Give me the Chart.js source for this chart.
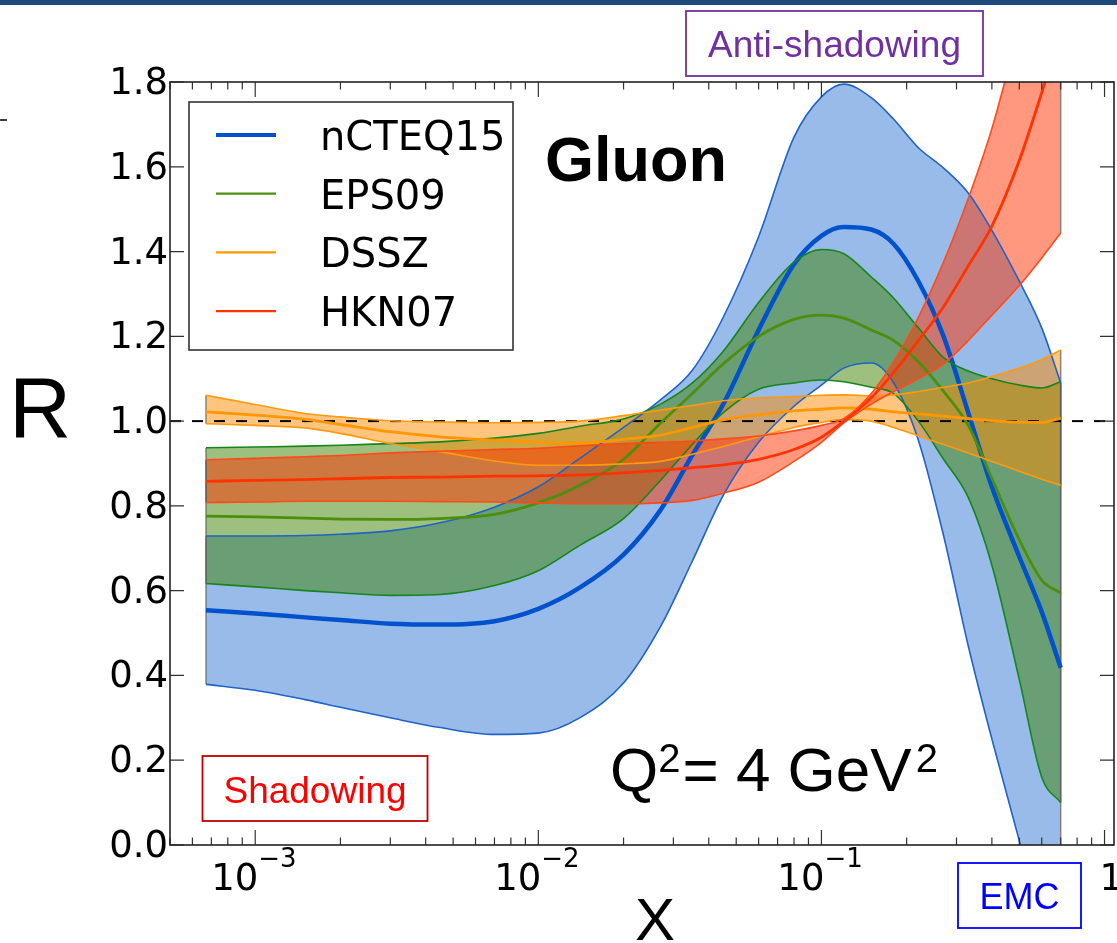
<!DOCTYPE html>
<html>
<head>
<meta charset="utf-8">
<script src="https://cdn.jsdelivr.net/npm/chart.js@4.4.1/dist/chart.umd.min.js"></script>
<style>
  html, body { margin: 0; padding: 0; background: #fff; }
  #wrap { width: 1117px; height: 943px; position: relative; }
</style>
</head>
<body>
<div id="wrap"><canvas id="gluon"></canvas></div>
<script>
var xs = [6.7e-4, 1e-3, 1.5e-3, 2e-3, 3e-3, 4.5e-3, 7e-3, 1e-2, 1.4e-2, 2e-2, 2.7e-2, 3.5e-2, 4.5e-2,
          6e-2, 8e-2, 0.1, 0.12, 0.15, 0.18, 0.22, 0.27, 0.33, 0.4, 0.5, 0.6, 0.7];

// nCTEQ15
var nctUp  = [0.729, 0.729, 0.730, 0.733, 0.741, 0.760, 0.797, 0.845, 0.912, 0.985, 1.050, 1.120, 1.245,
              1.435, 1.670, 1.765, 1.795, 1.763, 1.712, 1.645, 1.597, 1.538, 1.450, 1.330, 1.220, 1.090];
var nctMid = [0.554, 0.546, 0.537, 0.531, 0.522, 0.520, 0.528, 0.557, 0.607, 0.685, 0.790, 0.920, 1.040,
              1.215, 1.370, 1.437, 1.458, 1.452, 1.418, 1.330, 1.200, 1.020, 0.845, 0.680, 0.550, 0.418];
var nctLo  = [0.379, 0.365, 0.343, 0.325, 0.300, 0.277, 0.261, 0.264, 0.300, 0.382, 0.515, 0.670, 0.825,
              0.950, 1.035, 1.085, 1.125, 1.137, 1.090, 0.955, 0.730, 0.470, 0.250, 0.010, -0.180, -0.350];

// EPS09
var epsUp  = [0.937, 0.939, 0.941, 0.943, 0.947, 0.951, 0.960, 0.971, 0.988, 1.005, 1.040, 1.090, 1.165,
              1.280, 1.375, 1.405, 1.395, 1.340, 1.290, 1.220, 1.150, 1.118, 1.100, 1.085, 1.078, 1.093];
var epsMid = [0.776, 0.774, 0.771, 0.769, 0.768, 0.770, 0.780, 0.807, 0.848, 0.910, 0.995, 1.065, 1.135,
              1.200, 1.240, 1.250, 1.243, 1.215, 1.190, 1.140, 1.070, 0.990, 0.865, 0.720, 0.625, 0.594];
var epsLo  = [0.617, 0.609, 0.600, 0.595, 0.589, 0.591, 0.612, 0.647, 0.707, 0.770, 0.860, 0.945, 1.020,
              1.075, 1.090, 1.097, 1.093, 1.080, 1.065, 1.000, 0.910, 0.820, 0.660, 0.390, 0.160, 0.100];

// DSSZ
var dsszUp  = [1.061, 1.039, 1.018, 1.010, 1.001, 0.998, 0.996, 0.997, 1.000, 1.013, 1.026, 1.037, 1.048,
               1.055, 1.058, 1.061, 1.062, 1.060, 1.062, 1.070, 1.080, 1.090, 1.105, 1.125, 1.145, 1.168];
var dsszMid = [1.022, 1.014, 1.004, 0.992, 0.975, 0.963, 0.955, 0.950, 0.948, 0.957, 0.967, 0.985, 1.003,
               1.015, 1.024, 1.028, 1.031, 1.028, 1.022, 1.017, 1.012, 1.006, 1.001, 0.997, 0.997, 1.007];
var dsszLo  = [0.994, 0.990, 0.984, 0.971, 0.947, 0.928, 0.906, 0.896, 0.896, 0.899, 0.905, 0.922, 0.940,
               0.963, 0.985, 0.997, 1.004, 1.000, 0.985, 0.965, 0.945, 0.925, 0.905, 0.882, 0.863, 0.849];

// HKN07
var hknUp  = [0.909, 0.912, 0.916, 0.919, 0.925, 0.929, 0.933, 0.936, 0.942, 0.947, 0.950, 0.953, 0.958,
              0.965, 0.977, 0.990, 1.006, 1.065, 1.140, 1.245, 1.375, 1.525, 1.690, 1.930, 2.120, 2.280];
var hknMid = [0.858, 0.860, 0.862, 0.864, 0.867, 0.868, 0.870, 0.871, 0.873, 0.878, 0.884, 0.890, 0.897,
              0.910, 0.933, 0.962, 1.000, 1.055, 1.115, 1.190, 1.270, 1.366, 1.460, 1.615, 1.775, 1.920];
var hknLo  = [0.808, 0.809, 0.811, 0.811, 0.811, 0.810, 0.809, 0.807, 0.805, 0.805, 0.807, 0.813, 0.830,
              0.856, 0.905, 0.950, 0.996, 1.040, 1.070, 1.100, 1.135, 1.190, 1.250, 1.320, 1.385, 1.444];

// axes
var xMin = 5e-4, xMax = 1.08;
var yMin = 0, yMax = 1.8;
var yTicks = [0, 0.2, 0.4, 0.6, 0.8, 1.0, 1.2, 1.4, 1.6, 1.8];
var xMajor = [1e-3, 1e-2, 1e-1, 1];
var xExp = ["\u22123", "\u22122", "\u22121", "0"];
var unityX = [xMin, xMax];
var unityY = [1, 1];

function pts(xv, yv) {
  return xv.map(function (x, i) { return { x: x, y: yv[i] }; });
}

function edge(data, color, order, fillTo, fillColor) {
  return {
    data: pts(xs, data), borderColor: color, borderWidth: 1.6, order: order,
    fill: fillTo === undefined ? false : fillTo, backgroundColor: fillColor || 'transparent',
    cubicInterpolationMode: 'monotone'
  };
}
function mid(label, data, color, width, order) {
  return {
    label: label, data: pts(xs, data), borderColor: color, borderWidth: width, order: order,
    fill: false, cubicInterpolationMode: 'monotone', isCentral: true
  };
}

var datasets = [
  { data: pts(unityX, unityY), borderColor: '#000', borderWidth: 2, borderDash: [11, 11], order: 50, fill: false },
  edge(nctUp, '#1f63c6', 40),
  mid('nCTEQ15', nctMid, '#0052cc', 4.5, 40),
  edge(nctLo, '#1f63c6', 40, 1, 'rgba(0, 85, 200, 0.4)'),
  edge(epsUp, '#17851a', 30),
  mid('EPS09', epsMid, '#4b8f0c', 2.8, 30),
  edge(epsLo, '#17851a', 30, 4, 'rgba(60, 130, 0, 0.5)'),
  edge(dsszUp, '#ff9a10', 20),
  mid('DSSZ', dsszMid, '#ff9700', 2.8, 20),
  edge(dsszLo, '#ff9a10', 20, 7, 'rgba(255, 140, 0, 0.5)'),
  edge(hknUp, '#ff4a1a', 10),
  mid('HKN07', hknMid, '#ff3300', 2.8, 10),
  edge(hknLo, '#ff4a1a', 10, 10, 'rgba(255, 50, 0, 0.5)')
];

var bands = [[nctLo, nctUp], [epsLo, epsUp], [dsszLo, dsszUp], [hknLo, hknUp]];

// grey polygon ends of the bands, drawn right after the fills
var bandEnds = {
  id: 'bandEnds',
  beforeDatasetsDraw: function (chart) {
    var ctx = chart.ctx, a = chart.chartArea, sx = chart.scales.x, sy = chart.scales.y;
    ctx.save();
    ctx.beginPath();
    ctx.rect(a.left, a.top, a.right - a.left, a.bottom - a.top);
    ctx.clip();
    ctx.strokeStyle = 'rgba(90, 90, 90, 0.7)';
    ctx.lineWidth = 1.5;
    bands.forEach(function (b) {
      [0, xs.length - 1].forEach(function (i) {
        var px = sx.getPixelForValue(xs[i]);
        ctx.beginPath();
        ctx.moveTo(px, sy.getPixelForValue(b[0][i]));
        ctx.lineTo(px, sy.getPixelForValue(b[1][i]));
        ctx.stroke();
      });
    });
    ctx.restore();
  }
};

// matplotlib style frame with inward ticks
var frame = {
  id: 'frame',
  afterDraw: function (chart) {
    var ctx = chart.ctx, a = chart.chartArea, sx = chart.scales.x, sy = chart.scales.y;
    ctx.save();
    ctx.strokeStyle = '#333';
    ctx.lineWidth = 1.2;
    ctx.beginPath();
    yTicks.forEach(function (v) {
      var py = sy.getPixelForValue(v);
      ctx.moveTo(a.left, py); ctx.lineTo(a.left + 14, py);
      ctx.moveTo(a.right, py); ctx.lineTo(a.right - 14, py);
    });
    for (var d = -4; d <= 0; d++) {
      for (var m = 1; m <= 9; m++) {
        var v = m * Math.pow(10, d);
        if (v < xMin || v > xMax) continue;
        var px = sx.getPixelForValue(v);
        var len = m === 1 ? 15 : 7.5;
        ctx.moveTo(px, a.bottom); ctx.lineTo(px, a.bottom - len);
        ctx.moveTo(px, a.top); ctx.lineTo(px, a.top + len);
      }
    }
    ctx.stroke();
    ctx.strokeStyle = '#222';
    ctx.lineWidth = 1.6;
    ctx.strokeRect(a.left, a.top, a.right - a.left, a.bottom - a.top);

    ctx.fillStyle = '#000';
    ctx.textBaseline = 'alphabetic';
    ctx.font = '37px "DejaVu Sans"';
    ctx.textAlign = 'right';
    yTicks.forEach(function (v) {
      ctx.fillText(v.toFixed(1), a.left - 2, sy.getPixelForValue(v) + 12);
    });
    xMajor.forEach(function (v, i) {
      var px = sx.getPixelForValue(v) + 3;
      if (v === 1) px += 39; // last label sits further right in the original
      ctx.font = '37px "DejaVu Sans"';
      ctx.textAlign = 'right';
      ctx.fillText('10', px, a.bottom + 45);
      ctx.font = '26px "DejaVu Sans"';
      ctx.textAlign = 'left';
      ctx.fillText(xExp[i], px, a.bottom + 22);
    });
    ctx.restore();
  }
};

var legendBox = {
  id: 'legendBox',
  afterDraw: function (chart) {
    var ctx = chart.ctx;
    ctx.save();
    ctx.fillStyle = '#fff';
    ctx.fillRect(189, 102, 324, 248);
    ctx.strokeStyle = '#333';
    ctx.lineWidth = 1.6;
    ctx.strokeRect(189, 102, 324, 248);
    var row = 0;
    chart.data.datasets.forEach(function (ds) {
      if (!ds.isCentral) return;
      var y = 135 + row * 58.7;
      ctx.strokeStyle = ds.borderColor;
      ctx.lineWidth = ds.borderWidth > 3 ? 4 : 2.2;
      ctx.beginPath();
      ctx.moveTo(216, y); ctx.lineTo(276, y);
      ctx.stroke();
      ctx.fillStyle = '#000';
      ctx.font = '40px "DejaVu Sans"';
      ctx.textAlign = 'left';
      ctx.textBaseline = 'alphabetic';
      ctx.fillText(ds.label, 320, y + 15);
      row++;
    });
    ctx.restore();
  }
};

function boxText(ctx, text, x, y, w, h, edgeCol, textCol, size, base) {
  ctx.fillStyle = '#fff';
  ctx.fillRect(x, y, w, h);
  ctx.strokeStyle = edgeCol;
  ctx.lineWidth = 1.8;
  ctx.strokeRect(x, y, w, h);
  ctx.fillStyle = textCol;
  ctx.font = size + 'px "Liberation Sans", Arial, sans-serif';
  ctx.textAlign = 'center';
  ctx.textBaseline = 'alphabetic';
  ctx.fillText(text, x + w / 2, base);
}

var notes = {
  id: 'notes',
  afterDraw: function (chart) {
    var ctx = chart.ctx;
    ctx.save();
    ctx.fillStyle = '#1f497d';
    ctx.fillRect(0, 0, chart.width, 5);
    ctx.strokeStyle = '#000';
    ctx.lineWidth = 1.5;
    ctx.beginPath();
    ctx.moveTo(0, 120); ctx.lineTo(7, 120);
    ctx.stroke();

    boxText(ctx, 'Anti-shadowing', 686, 11, 297, 65, '#7030a0', '#7030a0', 37, 57);
    boxText(ctx, 'Shadowing', 202.5, 756, 225, 65, '#c00000', '#ff0000', 37, 803);
    boxText(ctx, 'EMC', 958, 863, 123, 65, '#0000ff', '#0000ff', 36, 909);

    ctx.fillStyle = '#000';
    ctx.textAlign = 'left';
    ctx.textBaseline = 'alphabetic';
    ctx.font = 'bold 63px "Liberation Sans", Arial, sans-serif';
    ctx.fillText('Gluon', 545, 181);
    ctx.font = '86px "Liberation Sans", Arial, sans-serif';
    ctx.fillText('R', 9, 437);
    ctx.font = '60px "Liberation Sans", Arial, sans-serif';
    ctx.fillText('X', 635, 940);

    // Q^2 = 4 GeV^2
    var big = '62px "Liberation Sans", Arial, sans-serif';
    var small = '40px "Liberation Sans", Arial, sans-serif';
    var x = 610, base = 791;
    ctx.font = big; ctx.fillText('Q', x, base); x += ctx.measureText('Q').width;
    ctx.font = small; ctx.fillText('2', x, base - 19); x += ctx.measureText('2').width;
    ctx.font = big; ctx.fillText('= 4 GeV', x + 2, base); x += ctx.measureText('= 4 GeV').width + 6;
    ctx.font = small; ctx.fillText('2', x, base - 19);
    ctx.restore();
  }
};

var ctx = document.getElementById('gluon').getContext('2d');
var chart = new Chart(ctx, {
  type: 'line',
  data: { datasets: datasets },
  options: {
    animation: false,
    responsive: true,
    maintainAspectRatio: false,
    events: [],
    layout: { padding: { left: 170, top: 82, right: 3, bottom: 98 } },
    elements: { point: { radius: 0 } },
    scales: {
      x: { type: 'logarithmic', min: xMin, max: xMax, display: false },
      y: { type: 'linear', min: yMin, max: yMax, display: false }
    },
    plugins: {
      legend: { display: false },
      tooltip: { enabled: false },
      filler: { drawTime: 'beforeDatasetsDraw' }
    }
  },
  plugins: [bandEnds, frame, legendBox, notes]
});
</script>
</body>
</html>
